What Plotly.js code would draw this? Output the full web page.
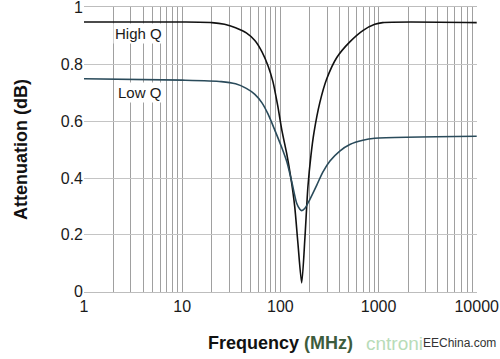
<!DOCTYPE html>
<html>
<head>
<meta charset="utf-8">
<script src="https://cdn.plot.ly/plotly-3.0.1.min.js"></script>
<style>
html,body{margin:0;padding:0;background:#fff;}
#chart{width:500px;height:359px;}
</style>
</head>
<body>
<div id="chart"></div>
<script>
// Frequency (MHz) samples and attenuation (dB)
const freqHighQ = [1, 5, 10, 20, 27, 35, 45, 55, 65, 75, 84, 94, 104, 117, 128, 140, 151, 165, 178, 191, 205, 220, 252, 297, 376, 510, 692, 916, 1100, 10000];
const attHighQ  = [0.95, 0.95, 0.95, 0.948, 0.942, 0.93, 0.912, 0.885, 0.845, 0.795, 0.74, 0.655, 0.565, 0.48, 0.40, 0.30, 0.17, 0.03, 0.19, 0.37, 0.48, 0.56, 0.665, 0.75, 0.825, 0.88, 0.92, 0.942, 0.948, 0.948];

const freqLowQ = [1, 10, 25, 35, 45, 55, 65, 75, 88, 104, 117, 131, 147, 158, 165, 178, 200, 235, 270, 320, 403, 510, 692, 916, 10000];
const attLowQ  = [0.75, 0.745, 0.74, 0.732, 0.716, 0.695, 0.665, 0.625, 0.568, 0.505, 0.455, 0.385, 0.31, 0.29, 0.285, 0.293, 0.325, 0.375, 0.42, 0.46, 0.495, 0.518, 0.533, 0.54, 0.547];

const seriesNames = ["High Q", "Low Q"];
const decadeLabels = ["1", "10", "100", "1000", "10000"];
const yTickVals = [0, 0.2, 0.4, 0.6, 0.8, 1];
const yTickText = ["0", "0.2", "0.4", "0.6", "0.8", "1"];

// grid ticks at every 1..9 multiple of each decade, labels only on decades
const xTickVals = [];
const xTickText = [];
for (let d = 0; d < 4; d++) {
  for (let m = 1; m <= 9; m++) {
    xTickVals.push(m * Math.pow(10, d));
    xTickText.push(m === 1 ? decadeLabels[d] : "");
  }
}
xTickVals.push(10000);
xTickText.push(decadeLabels[4]);

const traces = [
  {x: freqHighQ, y: attHighQ, mode: "lines", name: seriesNames[0],
   line: {color: "#111111", width: 1.6, shape: "spline", smoothing: 0.7}},
  {x: freqLowQ, y: attLowQ, mode: "lines", name: seriesNames[1],
   line: {color: "#2a4b5b", width: 1.6, shape: "spline", smoothing: 0.7}}
];

const layout = {
  width: 500, height: 359,
  margin: {l: 84, r: 23, t: 7, b: 67},
  paper_bgcolor: "#fff", plot_bgcolor: "#fff",
  showlegend: false,
  font: {family: "Liberation Sans, Arial, sans-serif", color: "#1a1a1a", size: 16},
  xaxis: {
    type: "log", range: [0, 4.003], tickmode: "array",
    tickvals: xTickVals, ticktext: xTickText,
    showgrid: true, gridcolor: "#a0a0a0", gridwidth: 1,
    zeroline: false, showline: true, linecolor: "#bdbdbd", linewidth: 1, mirror: true,
    ticks: "", tickfont: {size: 16, color: "#1a1a1a"}, ticklabeloverflow: "allow",
    title: {text: "Frequency <span style='color:#3d5c3d'>(MHz)</span>", font: {size: 18, color: "#111", weight: "bold"}, standoff: 22}
  },
  yaxis: {
    range: [-0.002, 1.003], tickmode: "array", tickvals: yTickVals, ticktext: yTickText,
    showgrid: true, gridcolor: "#c4c4c4", gridwidth: 1,
    zeroline: false, showline: false,
    ticks: "", tickfont: {size: 16, color: "#1a1a1a"}, ticklabeloverflow: "allow",
    title: {text: "Attenuation (dB)", font: {size: 18, color: "#111", weight: "bold"}, standoff: 28}
  },
  annotations: [
    {x: Math.log10(3.63), y: 0.909, xref: "x", yref: "y", text: seriesNames[0], showarrow: false,
     font: {size: 15, color: "#1a1a1a"}, bgcolor: "#fff"},
    {x: Math.log10(3.7), y: 0.70, xref: "x", yref: "y", text: seriesNames[1], showarrow: false,
     font: {size: 15, color: "#1a1a1a"}, bgcolor: "#fff"},
    {x: 0.713, y: -0.179, xref: "paper", yref: "paper", xanchor: "left", yanchor: "middle",
     text: "cntroni", showarrow: false, font: {size: 19, color: "#b8dcb8"}},
    {x: 0.858, y: -0.179, xref: "paper", yref: "paper", xanchor: "left", yanchor: "middle",
     text: "EEChina.com", showarrow: false, font: {size: 12, color: "#333", family: "Liberation Sans Narrow, Arial Narrow, sans-serif"}}
  ]
};

Plotly.newPlot("chart", traces, layout, {displayModeBar: false, staticPlot: true});
</script>
</body>
</html>
